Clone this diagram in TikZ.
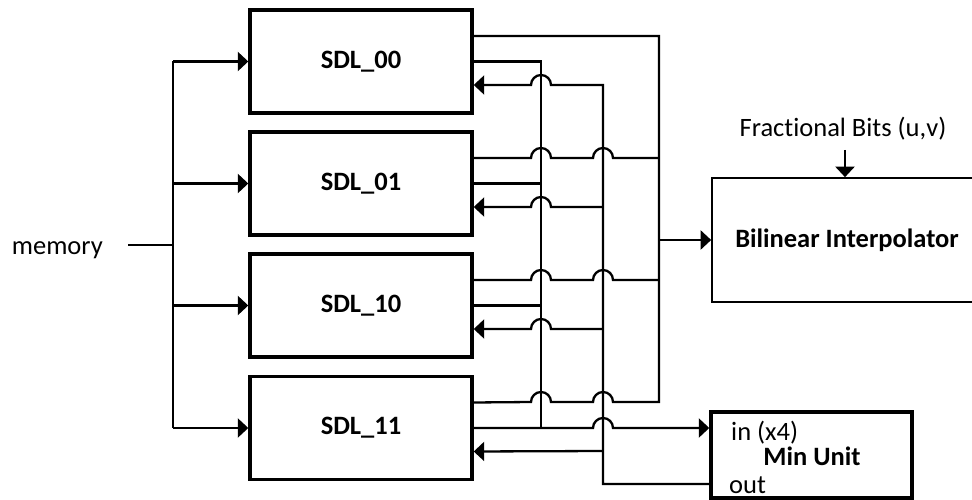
\documentclass[tikz,border=0pt]{standalone}
\usepackage{fontspec}
\setmainfont{Carlito}[Ligatures=NoCommon]
\usetikzlibrary{arrows.meta}

\tikzset{
  txt/.style={font=\fontsize{26.5}{30}\selectfont, inner sep=0pt},
  boldtxt/.style={font=\bfseries\fontsize{26.5}{30}\selectfont},
  sdlbox/.style={draw, line width=3.4pt, minimum width=222pt, minimum height=103pt,
    inner sep=0pt, boldtxt},
  wire/.style={line width=2.3pt},
  arr/.style={wire, -{Triangle[length=10.5pt,width=19pt]}},
}
% a semicircular hop over a crossing wire
\newcommand\hopR{arc[start angle=180,end angle=0,radius=10pt]}
\newcommand\hopL{arc[start angle=0,end angle=180,radius=10pt]}

\begin{document}
\begin{tikzpicture}[x=1pt,y=-1pt]
\useasboundingbox (0,0) rectangle (972,500);
\clip (0,0) rectangle (972,500);

% the four SDL blocks
\node[sdlbox] (s00) at (361,61.5) {SDL\_00};
\node[sdlbox] (s01) at (361,183.5) {SDL\_01};
\node[sdlbox] (s10) at (361,305.5) {SDL\_10};
\node[sdlbox] (s11) at (361,428) {SDL\_11};

% interpolator and min unit
\node[draw, line width=1.7pt, minimum width=270pt, minimum height=124pt, inner sep=0pt,
      boldtxt] (bil) at (847,240) {Bilinear Interpolator};
\node[draw, line width=3.4pt, minimum width=201pt, minimum height=86pt] (minu) at (811.5,455) {};
\node[txt, anchor=base west] (min-in) at (731,440) {in (x4)};
\node[txt, anchor=base, boldtxt] (min-name) at (812,465) {Min Unit};
\node[txt, anchor=base west] (min-out) at (729,493) {out};

% fractional bits input
\node[txt, anchor=base] (frac) at (843,137) {Fractional Bits (u,v)};
\coordinate (fracin) at (845,150);
\draw[arr] (fracin) -- (fracin |- bil.north);

% memory feed
\node[txt, anchor=base east] (mem) at (103,254) {memory};
\coordinate (memin) at (128,245);
\coordinate (memsplit) at (173,245);
\draw[wire] (memin) -- (memsplit);
\draw[wire] (memsplit |- s00.west) -- (memsplit |- s11.west);
\foreach \n in {00,01,10,11}
  \draw[arr] (memsplit |- s\n.west) -- (s\n.west);

% first outputs to the interpolator bus
\draw[wire] ([yshift=25.5pt]s00.east) -- (659,36) -- (659,402)
  -- (613,402) \hopL -- (551,402) \hopL -- ([yshift=25.5pt]s11.east);
\draw[wire] ([yshift=25.5pt]s01.east) -- (531,158) \hopR -- (593,158) \hopR -- (659,158);
\draw[wire] ([yshift=25.5pt]s10.east) -- (531,280) \hopR -- (593,280) \hopR -- (659,280);
\draw[arr] (659,240) -- (bil.west);

% second outputs to the min unit bus
\draw[wire] (s00.east) -- (541,61.5) -- (541,428);
\draw[wire] (s01.east) -- (541,183.5);
\draw[wire] (s10.east) -- (541,305.5);
\draw[arr] (s11.east) -- (593,428) \hopR -- ([yshift=27pt]minu.west);

% min unit result back to every block
\coordinate (mout) at ([yshift=-29pt]minu.west);
\draw[arr] (mout) -- (603,484) -- (603,85) -- (551,85) \hopL -- ([yshift=-23.5pt]s00.east);
\draw[arr] (603,207) -- (551,207) \hopL -- ([yshift=-23.5pt]s01.east);
\draw[arr] (603,329) -- (551,329) \hopL -- ([yshift=-23.5pt]s10.east);
\draw[arr] (603,451) -- ([yshift=-23.5pt]s11.east);
\end{tikzpicture}
\end{document}
